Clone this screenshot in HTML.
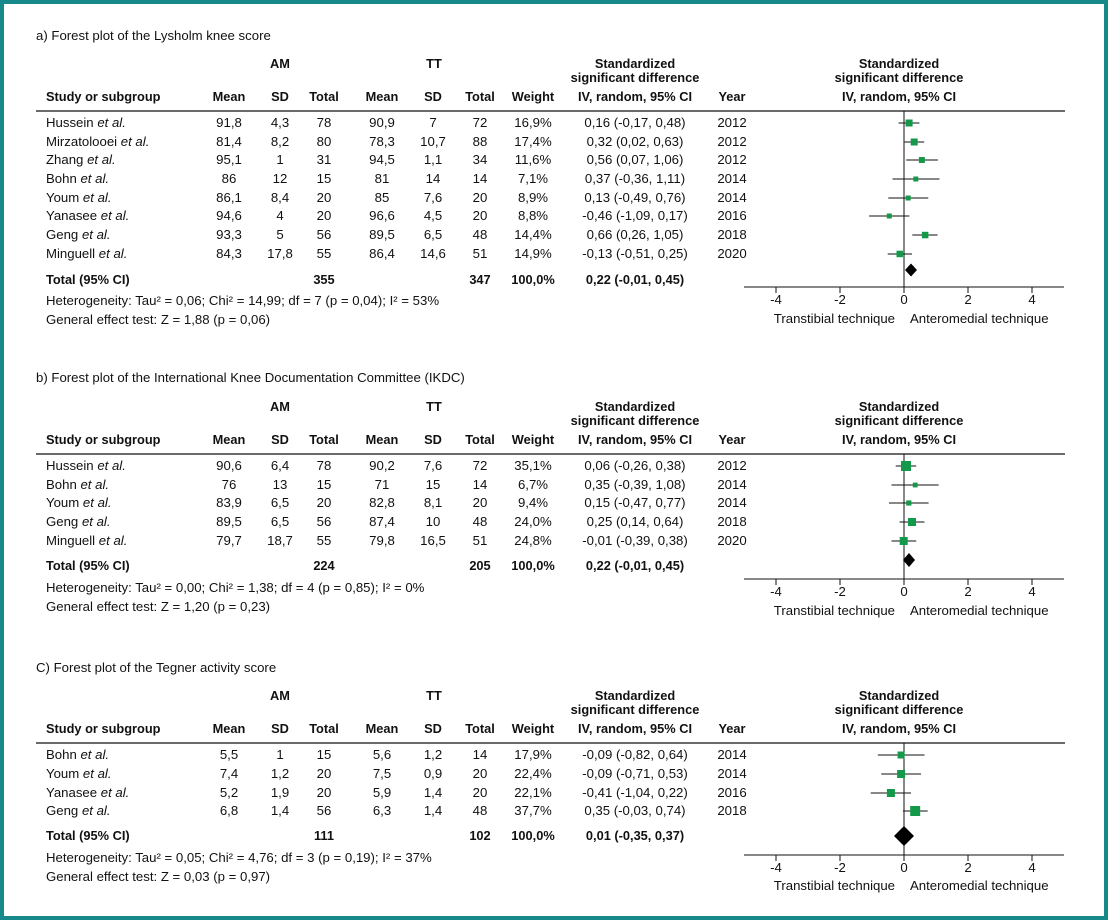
<!DOCTYPE html>
<html><head><meta charset="utf-8"><style>
html,body{margin:0;padding:0;background:#fff}
.f{position:absolute;left:0;top:0;width:1100px;height:912px;border:4px solid #17898a;}
svg{position:absolute;left:0;top:0}
text{font-family:"Liberation Sans",sans-serif;font-size:13.2px;fill:#111}
.b{font-weight:bold;font-size:12.8px}
.m{text-anchor:middle}
.e{text-anchor:end}
.i{font-style:italic}
</style></head><body>
<div class="f"></div>
<svg width="1108" height="920" viewBox="0 0 1108 920">
<!-- ===== Panel A ===== -->
<g>
<text x="36" y="40">a) Forest plot of the Lysholm knee score</text>
<text class="b m" x="280" y="68">AM</text><text class="b m" x="434" y="68">TT</text>
<text class="b m" x="635" y="68">Standardized</text><text class="b m" x="635" y="82">significant difference</text>
<text class="b m" x="899" y="68">Standardized</text><text class="b m" x="899" y="82">significant difference</text>
<text class="b" x="46" y="101">Study or subgroup</text>
<text class="b m" x="229" y="101">Mean</text><text class="b m" x="280" y="101">SD</text><text class="b m" x="324" y="101">Total</text>
<text class="b m" x="382" y="101">Mean</text><text class="b m" x="433" y="101">SD</text><text class="b m" x="480" y="101">Total</text>
<text class="b m" x="533" y="101">Weight</text><text class="b m" x="635" y="101">IV, random, 95% CI</text><text class="b m" x="732" y="101">Year</text>
<text class="b m" x="899" y="101">IV, random, 95% CI</text>
<line x1="36" y1="111" x2="1065" y2="111" stroke="#111" stroke-width="1.2"/>
<text x="46" y="127">Hussein <tspan class="i">et al.</tspan></text>
<text x="46" y="146">Mirzatolooei <tspan class="i">et al.</tspan></text>
<text x="46" y="164">Zhang <tspan class="i">et al.</tspan></text>
<text x="46" y="183">Bohn <tspan class="i">et al.</tspan></text>
<text x="46" y="202">Youm <tspan class="i">et al.</tspan></text>
<text x="46" y="220">Yanasee <tspan class="i">et al.</tspan></text>
<text x="46" y="239">Geng <tspan class="i">et al.</tspan></text>
<text x="46" y="258">Minguell <tspan class="i">et al.</tspan></text>
<text class="m" x="229" y="127">91,8</text><text class="m" x="280" y="127">4,3</text><text class="m" x="324" y="127">78</text><text class="m" x="382" y="127">90,9</text><text class="m" x="433" y="127">7</text><text class="m" x="480" y="127">72</text><text class="m" x="533" y="127">16,9%</text><text class="m" x="635" y="127">0,16 (-0,17, 0,48)</text><text class="m" x="732" y="127">2012</text>
<text class="m" x="229" y="146">81,4</text><text class="m" x="280" y="146">8,2</text><text class="m" x="324" y="146">80</text><text class="m" x="382" y="146">78,3</text><text class="m" x="433" y="146">10,7</text><text class="m" x="480" y="146">88</text><text class="m" x="533" y="146">17,4%</text><text class="m" x="635" y="146">0,32 (0,02, 0,63)</text><text class="m" x="732" y="146">2012</text>
<text class="m" x="229" y="164">95,1</text><text class="m" x="280" y="164">1</text><text class="m" x="324" y="164">31</text><text class="m" x="382" y="164">94,5</text><text class="m" x="433" y="164">1,1</text><text class="m" x="480" y="164">34</text><text class="m" x="533" y="164">11,6%</text><text class="m" x="635" y="164">0,56 (0,07, 1,06)</text><text class="m" x="732" y="164">2012</text>
<text class="m" x="229" y="183">86</text><text class="m" x="280" y="183">12</text><text class="m" x="324" y="183">15</text><text class="m" x="382" y="183">81</text><text class="m" x="433" y="183">14</text><text class="m" x="480" y="183">14</text><text class="m" x="533" y="183">7,1%</text><text class="m" x="635" y="183">0,37 (-0,36, 1,11)</text><text class="m" x="732" y="183">2014</text>
<text class="m" x="229" y="202">86,1</text><text class="m" x="280" y="202">8,4</text><text class="m" x="324" y="202">20</text><text class="m" x="382" y="202">85</text><text class="m" x="433" y="202">7,6</text><text class="m" x="480" y="202">20</text><text class="m" x="533" y="202">8,9%</text><text class="m" x="635" y="202">0,13 (-0,49, 0,76)</text><text class="m" x="732" y="202">2014</text>
<text class="m" x="229" y="220">94,6</text><text class="m" x="280" y="220">4</text><text class="m" x="324" y="220">20</text><text class="m" x="382" y="220">96,6</text><text class="m" x="433" y="220">4,5</text><text class="m" x="480" y="220">20</text><text class="m" x="533" y="220">8,8%</text><text class="m" x="635" y="220">-0,46 (-1,09, 0,17)</text><text class="m" x="732" y="220">2016</text>
<text class="m" x="229" y="239">93,3</text><text class="m" x="280" y="239">5</text><text class="m" x="324" y="239">56</text><text class="m" x="382" y="239">89,5</text><text class="m" x="433" y="239">6,5</text><text class="m" x="480" y="239">48</text><text class="m" x="533" y="239">14,4%</text><text class="m" x="635" y="239">0,66 (0,26, 1,05)</text><text class="m" x="732" y="239">2018</text>
<text class="m" x="229" y="258">84,3</text><text class="m" x="280" y="258">17,8</text><text class="m" x="324" y="258">55</text><text class="m" x="382" y="258">86,4</text><text class="m" x="433" y="258">14,6</text><text class="m" x="480" y="258">51</text><text class="m" x="533" y="258">14,9%</text><text class="m" x="635" y="258">-0,13 (-0,51, 0,25)</text><text class="m" x="732" y="258">2020</text>
<text class="b" x="46" y="284">Total (95% CI)</text><text class="b m" x="324" y="284">355</text><text class="b m" x="480" y="284">347</text><text class="b m" x="533" y="284">100,0%</text><text class="b m" x="635" y="284">0,22 (-0,01, 0,45)</text>
<text x="46" y="305">Heterogeneity: Tau² = 0,06; Chi² = 14,99; df = 7 (p = 0,04); I² = 53%</text>
<text x="46" y="324">General effect test: Z = 1,88 (p = 0,06)</text>
<g stroke="#111" stroke-width="1">
<line x1="904" y1="111" x2="904" y2="287"/>
<line x1="744" y1="287" x2="1064" y2="287"/>
<line x1="776" y1="287" x2="776" y2="293"/><line x1="840" y1="287" x2="840" y2="293"/><line x1="904" y1="287" x2="904" y2="293"/><line x1="968" y1="287" x2="968" y2="293"/><line x1="1032" y1="287" x2="1032" y2="293"/>
<line x1="898.6" y1="123" x2="919.4" y2="123"/>
<line x1="904.6" y1="142" x2="924.2" y2="142"/>
<line x1="906.2" y1="160" x2="937.9" y2="160"/>
<line x1="892.5" y1="179" x2="939.5" y2="179"/>
<line x1="888.3" y1="198" x2="928.3" y2="198"/>
<line x1="869.1" y1="216" x2="909.4" y2="216"/>
<line x1="912.3" y1="235" x2="937.6" y2="235"/>
<line x1="887.7" y1="254" x2="912" y2="254"/>
</g>
<g fill="#14994a">
<rect x="905.6" y="119.5" width="7" height="7"/>
<rect x="910.7" y="138.5" width="7" height="7"/>
<rect x="918.9" y="157" width="6" height="6"/>
<rect x="913.3" y="176.5" width="5" height="5"/>
<rect x="905.7" y="195.5" width="5" height="5"/>
<rect x="886.8" y="213.5" width="5" height="5"/>
<rect x="921.9" y="231.8" width="6.5" height="6.5"/>
<rect x="896.5" y="250.7" width="6.5" height="6.5"/>
</g>
<polygon points="905,270 911,263.5 917,270 911,276.5" fill="#000"/>
<text class="m" x="776" y="304">-4</text><text class="m" x="840" y="304">-2</text><text class="m" x="904" y="304">0</text><text class="m" x="968" y="304">2</text><text class="m" x="1032" y="304">4</text>
<text class="e" x="895" y="323">Transtibial technique</text><text x="910" y="323">Anteromedial technique</text>
</g>

<!-- ===== Panel B ===== -->
<g>
<text x="36" y="382">b) Forest plot of the International Knee Documentation Committee (IKDC)</text>
<text class="b m" x="280" y="411">AM</text><text class="b m" x="434" y="411">TT</text>
<text class="b m" x="635" y="411">Standardized</text><text class="b m" x="635" y="425">significant difference</text>
<text class="b m" x="899" y="411">Standardized</text><text class="b m" x="899" y="425">significant difference</text>
<text class="b" x="46" y="444">Study or subgroup</text>
<text class="b m" x="229" y="444">Mean</text><text class="b m" x="280" y="444">SD</text><text class="b m" x="324" y="444">Total</text>
<text class="b m" x="382" y="444">Mean</text><text class="b m" x="433" y="444">SD</text><text class="b m" x="480" y="444">Total</text>
<text class="b m" x="533" y="444">Weight</text><text class="b m" x="635" y="444">IV, random, 95% CI</text><text class="b m" x="732" y="444">Year</text>
<text class="b m" x="899" y="444">IV, random, 95% CI</text>
<line x1="36" y1="454" x2="1065" y2="454" stroke="#111" stroke-width="1.2"/>
<text x="46" y="470">Hussein <tspan class="i">et al.</tspan></text>
<text x="46" y="489">Bohn <tspan class="i">et al.</tspan></text>
<text x="46" y="507">Youm <tspan class="i">et al.</tspan></text>
<text x="46" y="526">Geng <tspan class="i">et al.</tspan></text>
<text x="46" y="545">Minguell <tspan class="i">et al.</tspan></text>
<text class="m" x="229" y="470">90,6</text><text class="m" x="280" y="470">6,4</text><text class="m" x="324" y="470">78</text><text class="m" x="382" y="470">90,2</text><text class="m" x="433" y="470">7,6</text><text class="m" x="480" y="470">72</text><text class="m" x="533" y="470">35,1%</text><text class="m" x="635" y="470">0,06 (-0,26, 0,38)</text><text class="m" x="732" y="470">2012</text>
<text class="m" x="229" y="489">76</text><text class="m" x="280" y="489">13</text><text class="m" x="324" y="489">15</text><text class="m" x="382" y="489">71</text><text class="m" x="433" y="489">15</text><text class="m" x="480" y="489">14</text><text class="m" x="533" y="489">6,7%</text><text class="m" x="635" y="489">0,35 (-0,39, 1,08)</text><text class="m" x="732" y="489">2014</text>
<text class="m" x="229" y="507">83,9</text><text class="m" x="280" y="507">6,5</text><text class="m" x="324" y="507">20</text><text class="m" x="382" y="507">82,8</text><text class="m" x="433" y="507">8,1</text><text class="m" x="480" y="507">20</text><text class="m" x="533" y="507">9,4%</text><text class="m" x="635" y="507">0,15 (-0,47, 0,77)</text><text class="m" x="732" y="507">2014</text>
<text class="m" x="229" y="526">89,5</text><text class="m" x="280" y="526">6,5</text><text class="m" x="324" y="526">56</text><text class="m" x="382" y="526">87,4</text><text class="m" x="433" y="526">10</text><text class="m" x="480" y="526">48</text><text class="m" x="533" y="526">24,0%</text><text class="m" x="635" y="526">0,25 (0,14, 0,64)</text><text class="m" x="732" y="526">2018</text>
<text class="m" x="229" y="545">79,7</text><text class="m" x="280" y="545">18,7</text><text class="m" x="324" y="545">55</text><text class="m" x="382" y="545">79,8</text><text class="m" x="433" y="545">16,5</text><text class="m" x="480" y="545">51</text><text class="m" x="533" y="545">24,8%</text><text class="m" x="635" y="545">-0,01 (-0,39, 0,38)</text><text class="m" x="732" y="545">2020</text>
<text class="b" x="46" y="570">Total (95% CI)</text><text class="b m" x="324" y="570">224</text><text class="b m" x="480" y="570">205</text><text class="b m" x="533" y="570">100,0%</text><text class="b m" x="635" y="570">0,22 (-0,01, 0,45)</text>
<text x="46" y="592">Heterogeneity: Tau² = 0,00; Chi² = 1,38; df = 4 (p = 0,85); I² = 0%</text>
<text x="46" y="611">General effect test: Z = 1,20 (p = 0,23)</text>
<g stroke="#111" stroke-width="1">
<line x1="904" y1="454" x2="904" y2="579"/>
<line x1="744" y1="579" x2="1064" y2="579"/>
<line x1="776" y1="579" x2="776" y2="585"/><line x1="840" y1="579" x2="840" y2="585"/><line x1="904" y1="579" x2="904" y2="585"/><line x1="968" y1="579" x2="968" y2="585"/><line x1="1032" y1="579" x2="1032" y2="585"/>
<line x1="895.7" y1="466" x2="916.2" y2="466"/>
<line x1="891.5" y1="485" x2="938.6" y2="485"/>
<line x1="889" y1="503" x2="928.6" y2="503"/>
<line x1="899.5" y1="522" x2="924.5" y2="522"/>
<line x1="891.5" y1="541" x2="916.2" y2="541"/>
</g>
<g fill="#14994a">
<rect x="901" y="461" width="10" height="10"/>
<rect x="912.8" y="482.6" width="4.8" height="4.8"/>
<rect x="906.2" y="500.4" width="5.2" height="5.2"/>
<rect x="908" y="518" width="8" height="8"/>
<rect x="899.7" y="537" width="8" height="8"/>
</g>
<polygon points="903,560 909,553 915,560 909,567" fill="#000"/>
<text class="m" x="776" y="596">-4</text><text class="m" x="840" y="596">-2</text><text class="m" x="904" y="596">0</text><text class="m" x="968" y="596">2</text><text class="m" x="1032" y="596">4</text>
<text class="e" x="895" y="615">Transtibial technique</text><text x="910" y="615">Anteromedial technique</text>
</g>

<!-- ===== Panel C ===== -->
<g>
<text x="36" y="672">C) Forest plot of the Tegner activity score</text>
<text class="b m" x="280" y="700">AM</text><text class="b m" x="434" y="700">TT</text>
<text class="b m" x="635" y="700">Standardized</text><text class="b m" x="635" y="714">significant difference</text>
<text class="b m" x="899" y="700">Standardized</text><text class="b m" x="899" y="714">significant difference</text>
<text class="b" x="46" y="733">Study or subgroup</text>
<text class="b m" x="229" y="733">Mean</text><text class="b m" x="280" y="733">SD</text><text class="b m" x="324" y="733">Total</text>
<text class="b m" x="382" y="733">Mean</text><text class="b m" x="433" y="733">SD</text><text class="b m" x="480" y="733">Total</text>
<text class="b m" x="533" y="733">Weight</text><text class="b m" x="635" y="733">IV, random, 95% CI</text><text class="b m" x="732" y="733">Year</text>
<text class="b m" x="899" y="733">IV, random, 95% CI</text>
<line x1="36" y1="743" x2="1065" y2="743" stroke="#111" stroke-width="1.2"/>
<text x="46" y="759">Bohn <tspan class="i">et al.</tspan></text>
<text x="46" y="778">Youm <tspan class="i">et al.</tspan></text>
<text x="46" y="797">Yanasee <tspan class="i">et al.</tspan></text>
<text x="46" y="815">Geng <tspan class="i">et al.</tspan></text>
<text class="m" x="229" y="759">5,5</text><text class="m" x="280" y="759">1</text><text class="m" x="324" y="759">15</text><text class="m" x="382" y="759">5,6</text><text class="m" x="433" y="759">1,2</text><text class="m" x="480" y="759">14</text><text class="m" x="533" y="759">17,9%</text><text class="m" x="635" y="759">-0,09 (-0,82, 0,64)</text><text class="m" x="732" y="759">2014</text>
<text class="m" x="229" y="778">7,4</text><text class="m" x="280" y="778">1,2</text><text class="m" x="324" y="778">20</text><text class="m" x="382" y="778">7,5</text><text class="m" x="433" y="778">0,9</text><text class="m" x="480" y="778">20</text><text class="m" x="533" y="778">22,4%</text><text class="m" x="635" y="778">-0,09 (-0,71, 0,53)</text><text class="m" x="732" y="778">2014</text>
<text class="m" x="229" y="797">5,2</text><text class="m" x="280" y="797">1,9</text><text class="m" x="324" y="797">20</text><text class="m" x="382" y="797">5,9</text><text class="m" x="433" y="797">1,4</text><text class="m" x="480" y="797">20</text><text class="m" x="533" y="797">22,1%</text><text class="m" x="635" y="797">-0,41 (-1,04, 0,22)</text><text class="m" x="732" y="797">2016</text>
<text class="m" x="229" y="815">6,8</text><text class="m" x="280" y="815">1,4</text><text class="m" x="324" y="815">56</text><text class="m" x="382" y="815">6,3</text><text class="m" x="433" y="815">1,4</text><text class="m" x="480" y="815">48</text><text class="m" x="533" y="815">37,7%</text><text class="m" x="635" y="815">0,35 (-0,03, 0,74)</text><text class="m" x="732" y="815">2018</text>
<text class="b" x="46" y="840">Total (95% CI)</text><text class="b m" x="324" y="840">111</text><text class="b m" x="480" y="840">102</text><text class="b m" x="533" y="840">100,0%</text><text class="b m" x="635" y="840">0,01 (-0,35, 0,37)</text>
<text x="46" y="862">Heterogeneity: Tau² = 0,05; Chi² = 4,76; df = 3 (p = 0,19); I² = 37%</text>
<text x="46" y="881">General effect test: Z = 0,03 (p = 0,97)</text>
<g stroke="#111" stroke-width="1">
<line x1="904" y1="743" x2="904" y2="855"/>
<line x1="744" y1="855" x2="1064" y2="855"/>
<line x1="776" y1="855" x2="776" y2="861"/><line x1="840" y1="855" x2="840" y2="861"/><line x1="904" y1="855" x2="904" y2="861"/><line x1="968" y1="855" x2="968" y2="861"/><line x1="1032" y1="855" x2="1032" y2="861"/>
<line x1="877.8" y1="755" x2="924.5" y2="755"/>
<line x1="881.3" y1="774" x2="921" y2="774"/>
<line x1="870.7" y1="793" x2="911" y2="793"/>
<line x1="903" y1="811" x2="927.7" y2="811"/>
</g>
<g fill="#14994a">
<rect x="897.6" y="751.5" width="7" height="7"/>
<rect x="897.1" y="770" width="8" height="8"/>
<rect x="886.9" y="789" width="8" height="8"/>
<rect x="910.2" y="806" width="10" height="10"/>
</g>
<polygon points="894,836 904,826 914,836 904,846" fill="#000"/>
<text class="m" x="776" y="872">-4</text><text class="m" x="840" y="872">-2</text><text class="m" x="904" y="872">0</text><text class="m" x="968" y="872">2</text><text class="m" x="1032" y="872">4</text>
<text class="e" x="895" y="890">Transtibial technique</text><text x="910" y="890">Anteromedial technique</text>
</g>
</svg>
</body></html>
